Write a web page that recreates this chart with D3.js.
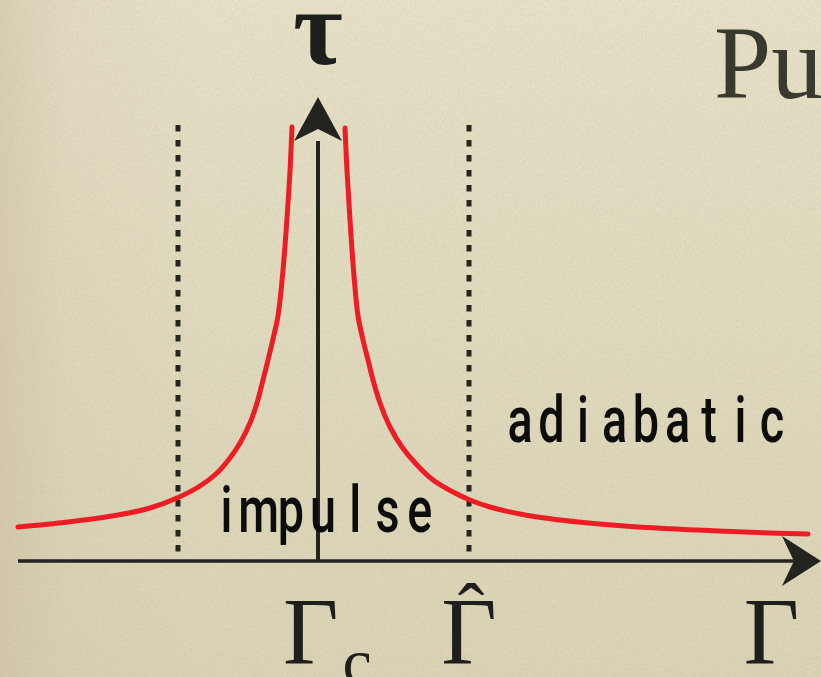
<!DOCTYPE html>
<html>
<head>
<meta charset="utf-8">
<script src="https://cdn.jsdelivr.net/npm/d3@7"></script>
<style>
  html, body { margin: 0; padding: 0; background: #e0dac0; }
  svg { display: block; }
</style>
</head>
<body>
<script>
// Relaxation time τ versus control parameter Γ around the critical point Γc.
const leftGamma  = [-3.00, -2.50, -2.00, -1.68, -1.41, -1.18, -1.01, -0.88, -0.78, -0.68, -0.61, -0.55, -0.50, -0.45, -0.40, -0.36, -0.33, -0.31, -0.28, -0.26];
const leftTau    = [ 0.34,  0.39,  0.46,  0.53,  0.63,  0.75,  0.88,  1.03,  1.18,  1.38,  1.58,  1.81,  2.01,  2.22,  2.45,  2.80,  3.15,  3.43,  3.90,  4.34];
const rightGamma = [0.27, 0.29, 0.32, 0.36, 0.40, 0.45, 0.50, 0.55, 0.62, 0.72, 0.84, 0.99, 1.15, 1.35, 1.52, 1.72, 2.10, 2.60, 3.20, 3.80, 4.40, 4.90];
const rightTau   = [4.33, 3.90, 3.41, 2.85, 2.45, 2.21, 2.01, 1.81, 1.58, 1.34, 1.14, 0.96, 0.81, 0.69, 0.61, 0.54, 0.455, 0.39, 0.34, 0.31, 0.285, 0.27];

const gammaC = 0;           // critical point
const gammaHatLeft = -1.40; // left freeze-out boundary
const gammaHat = 1.51;      // right freeze-out boundary Γ̂
const gammaAxisLabel = 4.535;
const regionLabels = ["impulse", "adiabatic"];

const W = 821, H = 677;
const x = d3.scaleLinear().domain([-3, 5.03]).range([18, 821]);
const y = d3.scaleLinear().domain([0, 4.35]).range([561, 126]);

const svg = d3.select("body").append("svg")
  .attr("width", W).attr("height", H)
  .attr("viewBox", `0 0 ${W} ${H}`);

// paper background
const defs = svg.append("defs");
const vg = defs.append("linearGradient").attr("id", "paperV").attr("x1", 0).attr("y1", 0).attr("x2", 0).attr("y2", 1);
vg.append("stop").attr("offset", "0%").attr("stop-color", "#e6e1c7");
vg.append("stop").attr("offset", "100%").attr("stop-color", "#dad3b5");
const hg = defs.append("linearGradient").attr("id", "paperH").attr("x1", 0).attr("y1", 0).attr("x2", 1).attr("y2", 0);
hg.append("stop").attr("offset", "0%").attr("stop-color", "#c9b89c").attr("stop-opacity", 0.45);
hg.append("stop").attr("offset", "8%").attr("stop-color", "#c9b89c").attr("stop-opacity", 0.12);
hg.append("stop").attr("offset", "25%").attr("stop-color", "#c9b89c").attr("stop-opacity", 0.0);
const grain = defs.append("filter").attr("id", "grain").attr("x", 0).attr("y", 0).attr("width", 1).attr("height", 1);
grain.append("feTurbulence").attr("type", "fractalNoise").attr("baseFrequency", "0.9 0.35").attr("numOctaves", 2).attr("seed", 3);
grain.append("feColorMatrix").attr("type", "matrix")
  .attr("values", "0 0 0 0 0.45  0 0 0 0 0.40  0 0 0 0 0.30  0 0 0 -1.2 0.75");

svg.append("rect").attr("width", W).attr("height", H).attr("fill", "url(#paperV)");
svg.append("rect").attr("width", W).attr("height", H).attr("fill", "url(#paperH)");
svg.append("rect").attr("width", W).attr("height", H).attr("filter", "url(#grain)").attr("opacity", 0.35);

// dotted boundaries
const dotted = svg.append("g").attr("stroke", "#26251f").attr("stroke-width", 5).attr("stroke-dasharray", "6.5,8.5");
[gammaHatLeft, gammaHat].forEach(g => {
  dotted.append("line").attr("x1", x(g)).attr("x2", x(g)).attr("y1", y(4.36)).attr("y2", y(0));
});

// axes
const axisColor = "#232320";
svg.append("line").attr("x1", x(-3)).attr("x2", x(5.03) - 20).attr("y1", y(0)).attr("y2", y(0))
  .attr("stroke", axisColor).attr("stroke-width", 3.6);
svg.append("line").attr("x1", x(gammaC)).attr("x2", x(gammaC)).attr("y1", y(0)).attr("y2", y(4.2))
  .attr("stroke", axisColor).attr("stroke-width", 4);

// curve
const line = d3.line().x(d => x(d[0])).y(d => y(d[1])).curve(d3.curveCatmullRom.alpha(0.5));
const curve = svg.append("g").attr("fill", "none").attr("stroke", "#ee1c25").attr("stroke-width", 5).attr("stroke-linecap", "round");
curve.append("path").attr("d", line(d3.zip(leftGamma, leftTau)));
curve.append("path").attr("d", line(d3.zip(rightGamma, rightTau)));

// arrowheads
const xt = x(5.03), y0 = y(0);
svg.append("path").attr("fill", axisColor)
  .attr("d", `M${xt},${y0} L${xt - 39},${y0 - 25} Q${xt - 31},${y0 - 8} ${xt - 27},${y0} Q${xt - 31},${y0 + 8} ${xt - 39},${y0 + 25} Z`);
const x0 = x(gammaC), yt = y(4.64);
svg.append("path").attr("fill", axisColor)
  .attr("d", `M${x0},${yt} L${x0 + 24},${yt + 44} Q${x0 + 8},${yt + 36} ${x0},${yt + 32} Q${x0 - 8},${yt + 36} ${x0 - 24},${yt + 44} Z`);

// axis titles and tick labels
const serif = "'Liberation Serif', 'Times New Roman', serif";
svg.append("text").attr("x", x0).attr("y", 64).attr("text-anchor", "middle")
  .attr("font-family", serif).attr("font-weight", "bold").attr("font-size", 108).attr("fill", "#1e1e1c").text("τ");

const labelY = 664;
const gc = svg.append("text").attr("x", x(gammaC) - 35).attr("y", labelY)
  .attr("font-family", serif).attr("font-size", 96).attr("fill", "#1e1e1c");
gc.append("tspan").text("Γ");
gc.append("tspan").attr("font-size", 66).attr("dy", 20).attr("dx", 4).text("c");

const gh = svg.append("text").attr("text-anchor", "middle")
  .attr("font-family", serif).attr("font-size", 96).attr("fill", "#1e1e1c");
gh.append("tspan").attr("x", x(gammaHat)).attr("y", labelY).text("Γ");
gh.append("tspan").attr("x", x(gammaHat) + 2).attr("y", 639).attr("font-size", 80).text("ˆ");

svg.append("text").attr("x", x(gammaAxisLabel)).attr("y", labelY).attr("text-anchor", "middle")
  .attr("font-family", serif).attr("font-size", 96).attr("fill", "#1e1e1c").text("Γ");

// heading fragment
svg.append("text").attr("x", 714).attr("y", 98)
  .attr("font-family", serif).attr("font-size", 103).attr("fill", "#3a392f").text("Pu");

// region labels, fixed-pitch layout
function pitched(str, cx0, base, pitch) {
  const sx = 0.72;
  const t = svg.append("text")
    .attr("transform", `translate(${cx0},${base}) scale(${sx},1)`)
    .attr("font-family", "Roboto, 'Noto Sans', sans-serif").attr("font-weight", 500)
    .attr("font-size", 65).attr("fill", "#0c0c0c").attr("text-anchor", "middle");
  t.attr("x", Array.from(str, (c, i) => (i * pitch / sx).toFixed(1)).join(" ")).text(str);
}
pitched(regionLabels[0], 226.5, 532, 32.2);
pitched(regionLabels[1], 520, 442, 31.5);
</script>
</body>
</html>
